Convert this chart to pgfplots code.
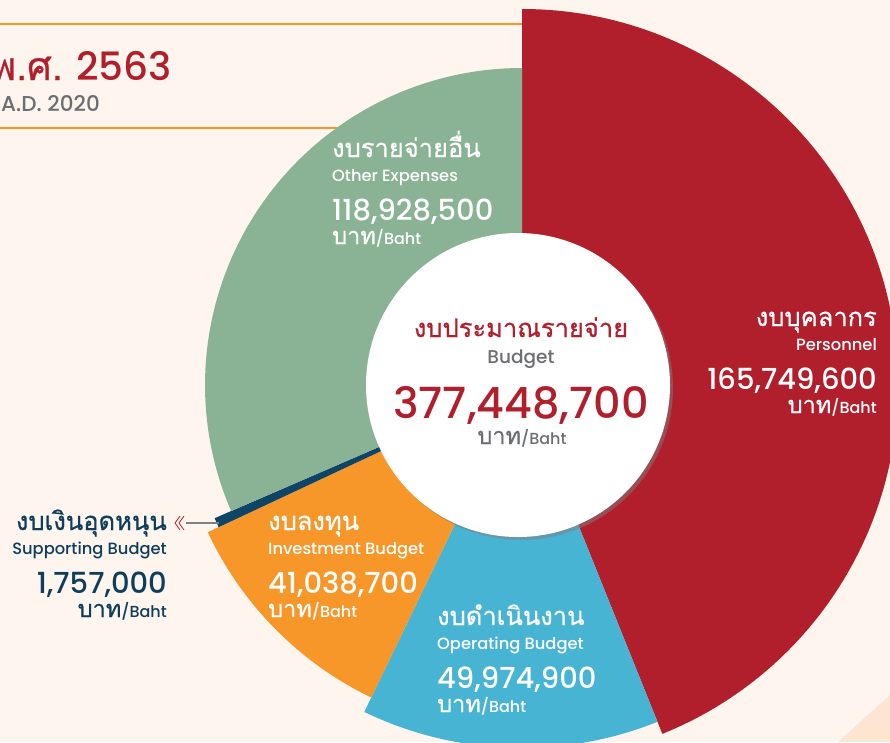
\documentclass[border=0pt]{standalone}
\usepackage{pgfplots}
\pgfplotsset{compat=1.18}
\usepackage{pgfplotstable}
\usepackage{fontspec}
\usetikzlibrary{shadows}
\setmainfont{Poppins}[UprightFont=* Medium]
\newfontfamily\thai[Script=Thai, FakeBold=0.6]{Loma}

\definecolor{bg}{HTML}{FEF5EF}
\definecolor{persred}{HTML}{B01F2B}
\definecolor{opblue}{HTML}{48B4D4}
\definecolor{invorange}{HTML}{F7972A}
\definecolor{supnavy}{HTML}{0E4466}
\definecolor{othgreen}{HTML}{89B394}
\definecolor{txtgray}{HTML}{6D6E71}
\definecolor{peach}{HTML}{FCE6D2}
\definecolor{labnavy}{HTML}{0E3E5C}

% budget 2563 (baht), outer radius of each slice in px
\pgfplotstableread{
slice value radius
personnel 165749600 376
operating 49974900 363
investment 41038700 347
supporting 1757000 335
other 118928500 317
}\budget

\pgfplotstablegetelem{0}{value}\of\budget\edef\vA{\pgfplotsretval}
\pgfplotstablegetelem{1}{value}\of\budget\edef\vB{\pgfplotsretval}
\pgfplotstablegetelem{2}{value}\of\budget\edef\vC{\pgfplotsretval}
\pgfplotstablegetelem{3}{value}\of\budget\edef\vD{\pgfplotsretval}
\pgfplotstablegetelem{4}{value}\of\budget\edef\vE{\pgfplotsretval}
\pgfplotstablegetelem{0}{radius}\of\budget\edef\rA{\pgfplotsretval}
\pgfplotstablegetelem{1}{radius}\of\budget\edef\rB{\pgfplotsretval}
\pgfplotstablegetelem{2}{radius}\of\budget\edef\rC{\pgfplotsretval}
\pgfplotstablegetelem{3}{radius}\of\budget\edef\rD{\pgfplotsretval}
\pgfplotstablegetelem{4}{radius}\of\budget\edef\rE{\pgfplotsretval}

\edef\total{\fpeval{\vA+\vB+\vC+\vD+\vE}}
\edef\aA{90}
\edef\aB{\fpeval{round(\aA-360*\vA/\total,4)}}
\edef\aC{\fpeval{round(\aB-360*\vB/\total,4)}}
\edef\aD{\fpeval{round(\aC-360*\vC/\total,4)}}
\edef\aE{\fpeval{round(\aD-360*\vD/\total,4)}}
\edef\aF{\fpeval{round(\aE-360*\vE/\total,4)}}

% slice: colour, start angle, end angle, radius
\newcommand\slice[4]{%
  \fill[#1] (axis cs:522,-385) -- ++(#2:#4pt)
    arc[start angle=#2, end angle=#3, radius=#4pt] -- cycle;}

\newcommand\thaiH{\thai\fontsize{25.5}{25.5}\selectfont}
\newcommand\engS{\fontsize{16.3}{16.3}\selectfont}
\newcommand\numM{\fontsize{29}{29}\selectfont}
\newcommand\baht{{\thai\fontsize{23.5}{23.5}\selectfont บาท}{\fontsize{16}{16}\selectfont/Baht}}

% block: anchor side, x, thai baseline y, colour, thai, english, number
\newcommand\block[7]{%
  \node[anchor=base #1, text=#4, inner sep=0pt, font=\thaiH] at (axis cs:#2,-#3) {#5};
  \node[anchor=base #1, text=#4, inner sep=0pt, font=\engS] at (axis cs:#2,-#3-24) {#6};
  \node[anchor=base #1, text=#4, inner sep=0pt, font=\numM] at (axis cs:#2,-#3-63) {#7};
  \node[anchor=base #1, text=#4, inner sep=0pt] at (axis cs:#2,-#3-87) {\baht};}

\begin{document}
\begin{tikzpicture}
\begin{axis}[
  x=1pt, y=1pt,
  xmin=0, xmax=890, ymin=-742, ymax=0,
  hide axis, clip=false,
  anchor=origin, at={(0,0)},
]
  % background and header rules
  \fill[bg] (axis cs:0,0) rectangle (axis cs:890,-742);
  \fill[peach] (axis cs:838,-742) -- (axis cs:890,-695) -- (axis cs:890,-742) -- cycle;
  \draw[invorange, line width=2.5pt] (axis cs:0,-24) -- (axis cs:522,-24);
  \draw[invorange, line width=2.5pt] (axis cs:0,-128) -- (axis cs:522,-128);

  % slices
  \slice{persred}{\aA}{\aB}{\rA}
  \slice{opblue}{\aB}{\aC}{\rB}
  \slice{invorange}{\aC}{\aD}{\rC}
  \slice{supnavy}{\aD}{\aE}{\rD}
  \slice{othgreen}{\aE}{\aF}{\rE}

  % centre disc
  \fill[white, drop shadow={shadow xshift=3pt, shadow yshift=-3pt, opacity=0.5}]
    (axis cs:518,-385) circle[radius=152pt];

  % header
  \node[anchor=base east, text=persred, inner sep=0pt, font=\fontsize{39}{39}\selectfont]
    at (axis cs:172,-80) {{\thai พ.ศ.} 2563};
  \node[anchor=base east, text=txtgray, inner sep=0pt, font=\fontsize{21.5}{21.5}\selectfont]
    at (axis cs:100,-111) {A.D. 2020};

  % centre text
  \node[anchor=base, text=persred, inner sep=0pt, font=\thaiH] at (axis cs:521,-337) {งบประมาณรายจ่าย};
  \node[anchor=base, text=txtgray, inner sep=0pt, font=\fontsize{18.5}{18.5}\selectfont] at (axis cs:521,-363) {Budget};
  \node[anchor=base, text=persred, inner sep=0pt, font=\fontsize{43}{43}\selectfont] at (axis cs:521,-418) {377,448,700};
  \node[anchor=base, text=txtgray, inner sep=0pt] at (axis cs:522,-444) {\baht};

  % slice labels
  \block{east}{877}{326}{white}{งบบุคลากร}{Personnel}{165,749,600}
  \block{west}{332}{157}{white}{งบรายจ่ายอื่น}{Other Expenses}{118,928,500}
  \block{west}{268}{530}{white}{งบลงทุน}{Investment Budget}{41,038,700}
  \block{west}{437}{625}{white}{งบดำเนินงาน}{Operating Budget}{49,974,900}
  \block{east}{167}{530}{labnavy}{งบเงินอุดหนุน}{Supporting Budget}{1,757,000}

  % pointer to the thin supporting slice
  \draw[persred, line width=0.8pt] (axis cs:180,-516) -- (axis cs:175,-523) -- (axis cs:180,-530);
  \draw[persred, line width=0.8pt] (axis cs:184,-516) -- (axis cs:179,-523) -- (axis cs:184,-530);
  \draw[gray, line width=1.5pt] (axis cs:186,-523) -- (axis cs:219,-523);
\end{axis}
\pgfresetboundingbox
\path (0,0) rectangle (890pt,-742pt);
\end{tikzpicture}
\end{document}
